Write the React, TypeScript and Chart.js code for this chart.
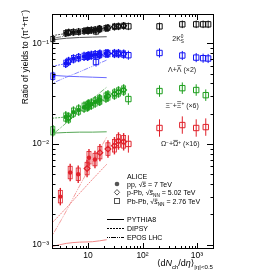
import React, { useEffect, useRef } from 'react';
import { Chart, registerables } from 'chart.js';

Chart.register(...registerables);

// ---------- data ----------
const ppMult = [2.26, 3.9, 5.4, 6.72, 8.45, 10.1, 11.5, 13.5, 16.5, 21.3];
const pPbMult = [4.4, 9.8, 16.1, 23.2, 30.5, 36.2, 45.0];
const PbPbMult = [14, 55, 205, 537, 966, 1294, 1601];
const PbPbMultMerged = [55, 205, 537, 966, 1447];
const ppMultOmega = [3.1, 4.7, 6.6, 10.4, 13.4];
const pPbMultOmega = [9.6, 16.5, 23.2, 30.5, 36.2, 45.0];
const modelMult = [2.2, 4, 7, 12, 22];

const k0sPP = [0.110, 0.126, 0.129, 0.130, 0.132, 0.133, 0.135, 0.136, 0.138, 0.141];
const k0sPPb = [0.128, 0.134, 0.139, 0.142, 0.146, 0.147, 0.149];
const k0sPbPb = [0.131, 0.147, 0.147, 0.154, 0.154, 0.154, 0.154];

const lamPP = [0.047, 0.063, 0.070, 0.072, 0.074, 0.075, 0.076, 0.077, 0.078, 0.079];
const lamPPb = [0.066, 0.074, 0.077, 0.079, 0.079, 0.079, 0.078];
const lamPbPb = [0.065, 0.076, 0.080, 0.0755, 0.072, 0.071, 0.0705];

const xiPP = [0.0135, 0.0185, 0.0207, 0.0217, 0.0232, 0.0243, 0.0249, 0.0261, 0.0273, 0.0292];
const xiPPb = [0.0181, 0.0238, 0.0273, 0.0299, 0.0313, 0.0328, 0.0343];
const xiPbPb = [0.0279, 0.0335, 0.0358, 0.0343, 0.0305];

const omPP = [0.0030, 0.0052, 0.0050, 0.0073, 0.0070];
const omPPb = [0.0057, 0.0082, 0.0089, 0.0096, 0.0107, 0.0105];
const omPbPb = [0.0100, 0.0144, 0.0154, 0.0144, 0.0147];

const pythiaK0s = [0.108, 0.112, 0.114, 0.115, 0.116];
const pythiaLam = [0.048, 0.047, 0.0465, 0.046, 0.0455];
const pythiaXi = [0.0128, 0.0130, 0.0131, 0.0131, 0.0132];
const pythiaOm = [0.00096, 0.00103, 0.00106, 0.00107, 0.00112];

const dipsyK0s = [0.119, 0.125, 0.131, 0.137, 0.143];
const dipsyLam = [0.059, 0.063, 0.068, 0.072, 0.076];
const dipsyXi = [0.0180, 0.0187, 0.021, 0.024, 0.028];
const dipsyOm = [0.00165, 0.00232, 0.00324, 0.00444, 0.00628];

const eposK0s = [0.112, 0.118, 0.124, 0.130, 0.136];
const eposLam = [0.040, 0.046, 0.052, 0.059, 0.068];
const eposXi = [0.0123, 0.0162, 0.0212, 0.0279, 0.0366];
const eposOm = [0.00123, 0.00217, 0.00384, 0.00649, 0.0117];

// relative uncertainties (values)
const errK0s = 0.09;
const errLam = 0.11;
const errXi = 0.14;
const errOm = 0.22;

// ---------- styling ----------
const FONT = '"Liberation Sans", Arial, "DejaVu Sans", sans-serif';
const C = {
  k: '#111111', kl: '#555555',
  b: '#1414f5', bl: '#6a6aff',
  g: '#1c9e1c', gl: '#55a655',
  r: '#e0202a', rl: '#f08888',
};

const SUP: Record<string, string> = { '-': '⁻', '0': '⁰', '1': '¹', '2': '²', '3': '³', '4': '⁴', '5': '⁵', '6': '⁶', '7': '⁷', '8': '⁸', '9': '⁹' };
function powLabel(v: number) {
  const l = Math.log10(v);
  const e = Math.round(l);
  if (Math.abs(l - e) > 1e-6) return '';
  if (e === 1) return '10';
  if (e === 0) return '1';
  return '10' + String(e).split('').map((c) => SUP[c]).join('');
}

const pts = (xs: number[], ys: number[]) => xs.map((x, i) => ({ x, y: ys[i] }));

type Part = { t: string; sub?: boolean; sup?: boolean; italic?: boolean; over?: number; hold?: boolean };
function fontFor(p: Part, size: number) {
  return `${p.italic ? 'italic ' : ''}${p.sub || p.sup ? size * 0.68 : size}px ${FONT}`;
}
function drawRich(ctx: CanvasRenderingContext2D, parts: Part[], x: number, y: number, size: number, align: 'left' | 'center' | 'right', color: string) {
  let total = 0;
  for (const p of parts) {
    ctx.font = fontFor(p, size);
    if (!p.hold) total += ctx.measureText(p.t).width;
  }
  let cx = align === 'center' ? x - total / 2 : align === 'right' ? x - total : x;
  ctx.fillStyle = color;
  ctx.strokeStyle = color;
  ctx.textAlign = 'left';
  ctx.textBaseline = 'alphabetic';
  for (const p of parts) {
    ctx.font = fontFor(p, size);
    const w = ctx.measureText(p.t).width;
    const dy = p.sub ? size * 0.3 : p.sup ? -size * 0.42 : 0;
    ctx.fillText(p.t, cx, y + dy);
    if (p.over) {
      const fs = p.sub || p.sup ? size * 0.68 : size;
      const oy = y + dy - fs * p.over;
      ctx.lineWidth = 0.6;
      ctx.beginPath();
      ctx.moveTo(cx + 0.3, oy);
      ctx.lineTo(cx + w - 0.3, oy);
      ctx.stroke();
    }
    if (!p.hold) cx += w;
  }
}

const errorBars = {
  id: 'errorBars',
  afterDatasetsDraw(chart: any) {
    const { ctx } = chart;
    const y = chart.scales.y;
    chart.data.datasets.forEach((ds: any, i: number) => {
      if (!ds.errRel) return;
      const meta = chart.getDatasetMeta(i);
      ctx.save();
      ctx.strokeStyle = ds.borderColor;
      meta.data.forEach((pt: any, j: number) => {
        const v = ds.data[j].y;
        const t = y.getPixelForValue(v * (1 + ds.errRel));
        const b = y.getPixelForValue(v / (1 + ds.errRel));
        ctx.lineWidth = ds.errWidth || 1;
        ctx.beginPath();
        ctx.moveTo(pt.x, t);
        ctx.lineTo(pt.x, b);
        ctx.stroke();
        if (ds.sysBox) {
          const st = y.getPixelForValue(v * (1 + ds.errRel * 0.7));
          const sb = y.getPixelForValue(v / (1 + ds.errRel * 0.7));
          ctx.lineWidth = 0.8;
          ctx.strokeRect(pt.x - 2, st, 4, sb - st);
        }
      });
      ctx.restore();
    });
  },
};

const decor = {
  id: 'decor',
  afterDraw(chart: any) {
    const { ctx, chartArea: a } = chart;
    const x = chart.scales.x;
    const y = chart.scales.y;
    ctx.save();
    // frame
    ctx.strokeStyle = '#000';
    ctx.lineWidth = 1;
    ctx.strokeRect(a.left + 0.5, a.top + 0.5, a.right - a.left - 1, a.bottom - a.top - 1);
    // ticks
    ctx.beginPath();
    for (let e = -4; e <= 0; e++) {
      for (let m = 1; m <= 9; m++) {
        const v = m * Math.pow(10, e);
        if (v < y.min || v > y.max) continue;
        const py = Math.round(y.getPixelForValue(v)) + 0.5;
        const len = m === 1 ? 7 : 3.5;
        ctx.moveTo(a.left, py); ctx.lineTo(a.left + len, py);
        ctx.moveTo(a.right, py); ctx.lineTo(a.right - len, py);
      }
    }
    for (let e = 0; e <= 3; e++) {
      for (let m = 1; m <= 9; m++) {
        const v = m * Math.pow(10, e);
        if (v < x.min || v > x.max) continue;
        const px = Math.round(x.getPixelForValue(v)) + 0.5;
        const len = m === 1 ? 6 : 3;
        ctx.moveTo(px, a.bottom); ctx.lineTo(px, a.bottom - len);
        ctx.moveTo(px, a.top); ctx.lineTo(px, a.top + len);
      }
    }
    ctx.stroke();

    // y title
    ctx.save();
    ctx.translate(25, 57);
    ctx.rotate(-Math.PI / 2);
    drawRich(ctx, [
      { t: 'Ratio of yields to (π' }, { t: '+', sup: true }, { t: '+π' }, { t: '−', sup: true }, { t: ')' },
    ], 0, 3, 8.5, 'center', '#000');
    ctx.restore();

    // x title
    drawRich(ctx, [
      { t: '⟨d' }, { t: 'N', italic: true }, { t: 'ch', sub: true }, { t: '/d' }, { t: 'η', italic: true }, { t: '⟩' },
      { t: '|η|<0.5', sub: true },
    ], a.right - 1, 266, 9, 'right', '#000');

    // species annotations
    const ann = (parts: Part[], xv: number, yv: number) =>
      drawRich(ctx, parts, x.getPixelForValue(xv), y.getPixelForValue(yv) + 2.5, 7, 'center', '#222');
    ann([{ t: '2K' }, { t: '0', sup: true, hold: true }, { t: 'S', sub: true }], 450, 0.112);
    ann([{ t: 'Λ+' }, { t: 'Λ', over: 0.86 }, { t: ' (×2)' }], 533, 0.0553);
    ann([{ t: 'Ξ' }, { t: '−', sup: true }, { t: '+' }, { t: 'Ξ', over: 0.86 }, { t: '+', sup: true }, { t: ' (×6)' }], 533, 0.0243);
    ann([{ t: 'Ω' }, { t: '−', sup: true }, { t: '+' }, { t: 'Ω', over: 0.86 }, { t: '+', sup: true }, { t: ' (×16)' }], 491, 0.0100);

    // legend
    const lx = 107, mx = 117, tx = 127;
    const fs = 7;
    drawRich(ctx, [{ t: 'ALICE' }], tx, 178.5, fs, 'left', '#000');
    ctx.fillStyle = '#555';
    ctx.strokeStyle = '#555';
    ctx.beginPath(); ctx.arc(mx, 184, 2.3, 0, Math.PI * 2); ctx.fill();
    drawRich(ctx, [{ t: 'pp, √' }, { t: 's', italic: true, over: 0.62 }, { t: ' = 7 TeV' }], tx, 186.5, fs, 'left', '#000');
    ctx.strokeStyle = '#555'; ctx.lineWidth = 1;
    ctx.beginPath(); ctx.moveTo(mx, 189.5); ctx.lineTo(mx + 2.6, 192.3); ctx.lineTo(mx, 195.1); ctx.lineTo(mx - 2.6, 192.3); ctx.closePath(); ctx.stroke();
    drawRich(ctx, [{ t: 'p-Pb, √' }, { t: 's', italic: true, over: 0.62 }, { t: 'NN', sub: true }, { t: ' = 5.02 TeV' }], tx, 195, fs, 'left', '#000');
    ctx.strokeStyle = '#555'; ctx.lineWidth = 1;
    ctx.strokeRect(mx - 2.5, 198.5, 5, 5);
    drawRich(ctx, [{ t: 'Pb-Pb, √' }, { t: 's', italic: true, over: 0.62 }, { t: 'NN', sub: true }, { t: ' = 2.76 TeV' }], tx, 203.5, fs, 'left', '#000');

    const lineRow = (yy: number, dash: number[], label: string) => {
      ctx.strokeStyle = '#000'; ctx.lineWidth = 1; ctx.setLineDash(dash);
      ctx.beginPath(); ctx.moveTo(lx, yy); ctx.lineTo(lx + 17, yy); ctx.stroke();
      ctx.setLineDash([]);
      drawRich(ctx, [{ t: label }], tx, yy + 2.5, fs, 'left', '#000');
    };
    lineRow(219.5, [], 'PYTHIA8');
    lineRow(228.5, [2, 1], 'DIPSY');
    lineRow(237.5, [1, 1, 1, 1, 5, 1], 'EPOS LHC');
    ctx.restore();
  },
};

function model(data: number[], color: string, dash: number[], width = 1) {
  return {
    data: pts(modelMult, data),
    showLine: true,
    borderColor: color,
    backgroundColor: color,
    borderWidth: width,
    borderDash: dash,
    pointRadius: 0,
    cubicInterpolationMode: 'monotone',
    order: 2,
  };
}
function ppSet(xs: number[], ys: number[], color: string, err: number) {
  return {
    data: pts(xs, ys), showLine: false, pointStyle: 'circle', pointRadius: 2.2,
    backgroundColor: color, borderColor: color, borderWidth: 0, errRel: err, errWidth: 1.4, sysBox: true, order: 0,
  };
}
function pPbSet(xs: number[], ys: number[], color: string, err: number) {
  return {
    data: pts(xs, ys), showLine: false, pointStyle: 'rectRot', pointRadius: 2.8,
    backgroundColor: 'rgba(255,255,255,0)', borderColor: color, borderWidth: 1.3, errRel: err, errWidth: 1.4, sysBox: true, order: 0,
  };
}
function PbPbSet(xs: number[], ys: number[], color: string, err: number) {
  return {
    data: pts(xs, ys), showLine: false, pointStyle: 'rect', pointRadius: 3.8,
    backgroundColor: 'rgba(255,255,255,0)', borderColor: color, borderWidth: 1, errRel: err, errWidth: 1, order: 0,
  };
}

export default function App() {
  const ref = useRef<HTMLCanvasElement | null>(null);
  useEffect(() => {
    if (!ref.current) return;
    const datasets: any[] = [
      model(pythiaK0s, C.kl, [], 1), model(dipsyK0s, C.kl, [2, 1]), model(eposK0s, C.kl, [1, 1, 1, 1, 5, 1], 0.8),
      model(pythiaLam, C.bl, [], 1), model(dipsyLam, C.bl, [2, 1]), model(eposLam, C.bl, [1, 1, 1, 1, 5, 1], 0.8),
      model(pythiaXi, C.gl, [], 1), model(dipsyXi, C.gl, [2, 1]), model(eposXi, C.gl, [1, 1, 1, 1, 5, 1], 0.8),
      model(pythiaOm, C.rl, [], 1), model(dipsyOm, C.rl, [2, 1]), model(eposOm, C.rl, [1, 1, 1, 1, 5, 1], 0.8),
      ppSet(ppMult, k0sPP, C.k, errK0s), pPbSet(pPbMult, k0sPPb, C.k, errK0s), PbPbSet(PbPbMult, k0sPbPb, C.k, errK0s),
      ppSet(ppMult, lamPP, C.b, errLam), pPbSet(pPbMult, lamPPb, C.b, errLam), PbPbSet(PbPbMult, lamPbPb, C.b, errLam),
      ppSet(ppMult, xiPP, C.g, errXi), pPbSet(pPbMult, xiPPb, C.g, errXi), PbPbSet(PbPbMultMerged, xiPbPb, C.g, errXi),
      ppSet(ppMultOmega, omPP, C.r, errOm), pPbSet(pPbMultOmega, omPPb, C.r, errOm), PbPbSet(PbPbMultMerged, omPbPb, C.r, errOm),
    ];
    const chart = new Chart(ref.current, {
      type: 'scatter',
      data: { datasets },
      options: {
        responsive: false,
        animation: false,
        events: [],
        layout: { padding: { left: 8, right: 59, top: 14, bottom: 8 } },
        plugins: { legend: { display: false }, tooltip: { enabled: false } },
        scales: {
          x: {
            type: 'logarithmic', min: 2.18, max: 2050,
            grid: { display: false, drawTicks: false }, border: { display: false },
            ticks: { autoSkip: false, maxRotation: 0, padding: 2, color: '#000', font: { size: 8.5, family: FONT }, callback: (v: any) => powLabel(Number(v)) },
            afterFit: (s: any) => { s.height = 16; },
          },
          y: {
            type: 'logarithmic', min: 0.000906, max: 0.195,
            grid: { display: false, drawTicks: false }, border: { display: false },
            ticks: { autoSkip: false, padding: 3, color: '#000', font: { size: 8.5, family: FONT }, callback: (v: any) => powLabel(Number(v)) },
            afterFit: (s: any) => { s.width = 44; },
          },
        },
      } as any,
      plugins: [errorBars, decor],
    });
    return () => chart.destroy();
  }, []);
  return (
    <div style={{ position: 'fixed', left: 0, top: 0, width: 273, height: 273, background: '#fff' }}>
      <canvas ref={ref} width={273} height={273} />
    </div>
  );
}
